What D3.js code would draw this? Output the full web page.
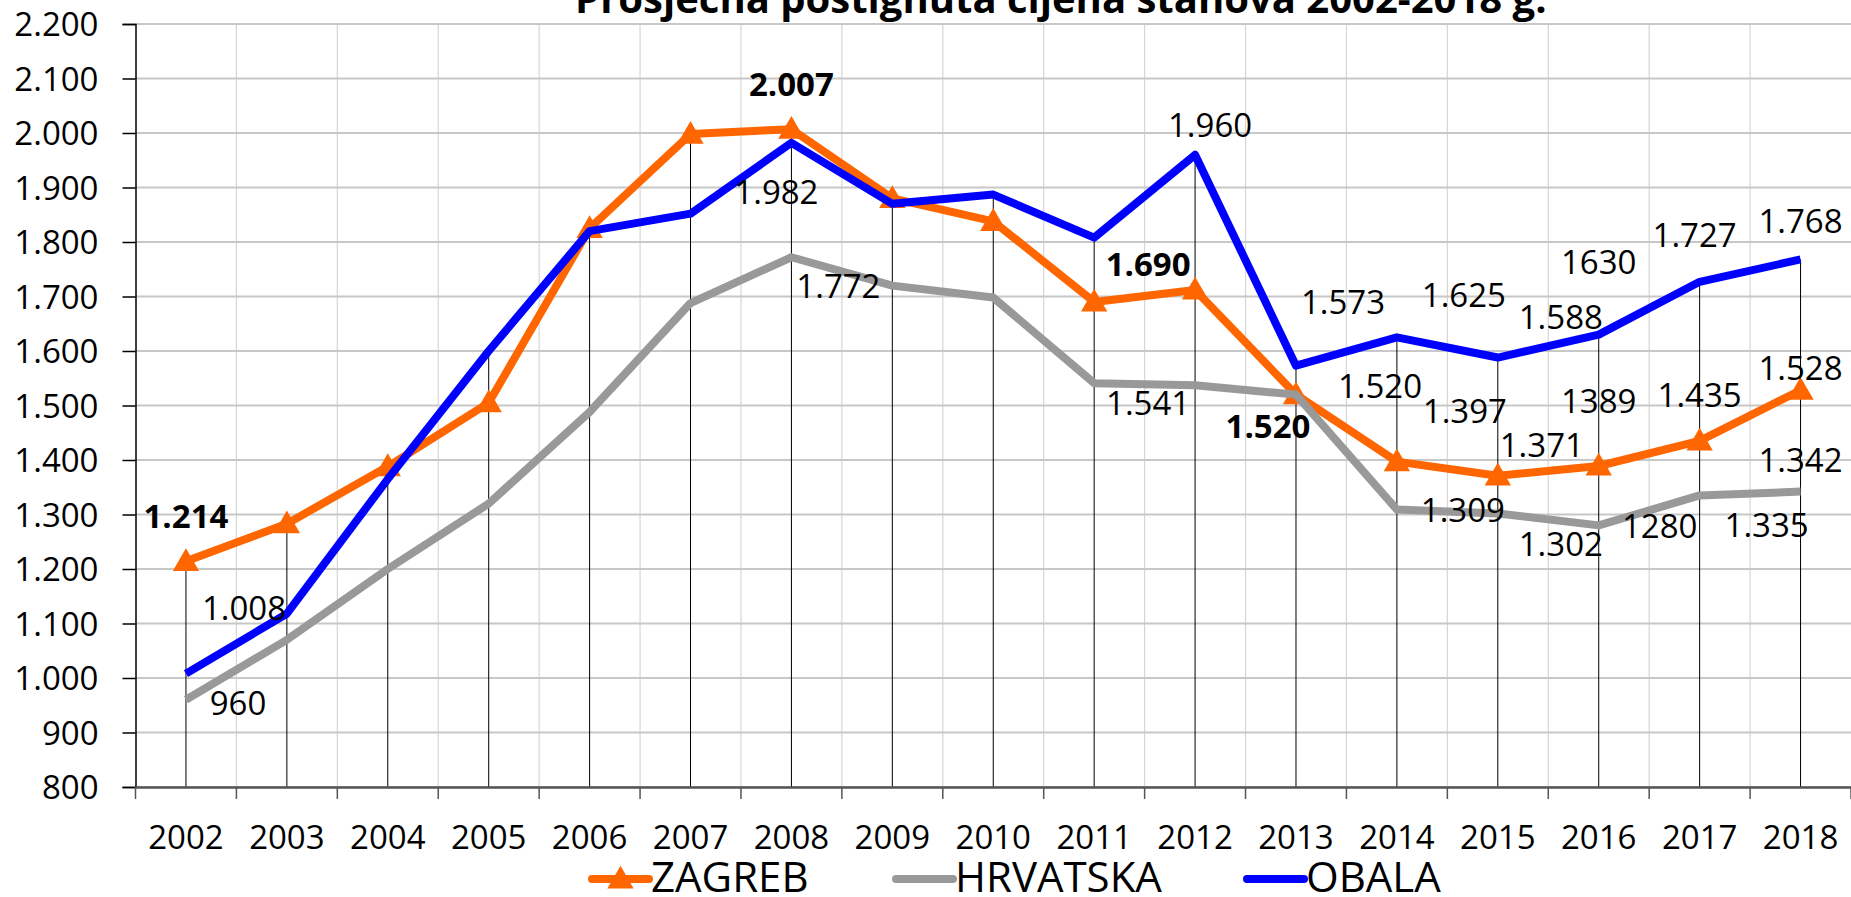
<!DOCTYPE html>
<html>
<head>
<meta charset="utf-8">
<script src="https://cdn.jsdelivr.net/npm/d3@7"></script>
<style>
  html, body { margin: 0; padding: 0; background: #fff; overflow: hidden; }
  svg { display: block; font-family: "Open Sans", "Liberation Sans", Arial, sans-serif; }
</style>
</head>
<body>
<div id="chart"></div>
<script>
const title = 'Prosječna postignuta cijena stanova 2002-2018 g.';
const years = ['2002', '2003', '2004', '2005', '2006', '2007', '2008', '2009', '2010',
               '2011', '2012', '2013', '2014', '2015', '2016', '2017', '2018'];
const yTicks = [800, 900, 1000, 1100, 1200, 1300, 1400, 1500, 1600, 1700, 1800, 1900, 2000, 2100, 2200];

const zagreb   = [1214, 1283, 1388, 1505, 1825, 1998, 2007, 1880, 1838, 1690, 1712, 1520, 1397, 1371, 1389, 1435, 1528];
const hrvatska = [960, 1070, 1200, 1320, 1488, 1688, 1772, 1720, 1698, 1541, 1537, 1520, 1309, 1302, 1280, 1335, 1342];
const obala    = [1008, 1118, 1365, 1600, 1820, 1852, 1982, 1870, 1887, 1808, 1960, 1573, 1625, 1588, 1630, 1727, 1768];

// data labels as printed in the chart (null = no label)
const zagrebLabels   = ['1.214', null, null, null, null, null, '2.007', null, null, '1.690', null, '1.520', '1.397', '1.371', '1389', '1.435', '1.528'];
const hrvatskaLabels = ['960', null, null, null, null, null, '1.772', null, null, '1.541', null, '1.520', '1.309', '1.302', '1280', '1.335', '1.342'];
const obalaLabels    = ['1.008', null, null, null, null, null, '1.982', null, null, null, '1.960', '1.573', '1.625', '1.588', '1630', '1.727', '1.768'];

// label offsets from the point (label centre), hand placed like in the original
const zagrebOffsets = [[0, -45], null, null, null, null, null, [0, -45], null, null, [54, -38], null, [-28, 32],
                       [68, -50], [44, -31], [0, -65], [0, -46], [0, -22]];
const hrvatskaOffsets = [[52, 3], null, null, null, null, null, [47, 29], null, null, [54, 20], null, [84, -8],
                         [66, 1], [63, 31], [61, 1], [67, 30], [0, -31]];
const obalaOffsets = [[58, -65], null, null, null, null, null, [-15, 49], null, null, null, [15, -30], [47, -63],
                      [67, -42], [63, -40], [0, -72], [-5, -47], [0, -38]];
const zagrebBoldYears = ['2002', '2008', '2011', '2013'];

const W = 1851, H = 897;
const plotLeft = 135.5, plotRight = 1851, plotTop = 24, plotBottom = 787;
const FONT = '"Open Sans", "Liberation Sans", Arial, sans-serif';

const svg = d3.select('#chart').append('svg')
  .attr('width', W)
  .attr('height', H);

const x = d3.scaleBand().domain(years).range([plotLeft, plotRight]).padding(0);
const y = d3.scaleLinear().domain([800, 2200]).range([plotBottom, plotTop]);
const cx = d => x(d) + x.bandwidth() / 2;

// vertical grid at category boundaries
svg.append('g')
  .selectAll('line')
  .data(years.slice(1))
  .join('line')
    .attr('x1', d => x(d)).attr('x2', d => x(d))
    .attr('y1', plotTop).attr('y2', plotBottom)
    .attr('stroke', '#d6d6d6')
    .attr('stroke-width', 1.2);

// horizontal grid
svg.append('g')
  .selectAll('line')
  .data(yTicks)
  .join('line')
    .attr('x1', plotLeft).attr('x2', plotRight)
    .attr('y1', d => y(d)).attr('y2', d => y(d))
    .attr('stroke', '#c8c8c8')
    .attr('stroke-width', 2);

// drop lines from the highest point down to the axis
svg.append('g')
  .selectAll('line')
  .data(years)
  .join('line')
    .attr('x1', d => cx(d)).attr('x2', d => cx(d))
    .attr('y1', (d, i) => y(d3.max([zagreb[i], hrvatska[i], obala[i]])))
    .attr('y2', plotBottom)
    .attr('stroke', '#000')
    .attr('stroke-width', 1);

// y axis
const yAxis = svg.append('g')
  .attr('transform', `translate(${plotLeft},0)`)
  .call(d3.axisLeft(y).tickValues(yTicks).tickSize(13).tickPadding(24)
    .tickFormat(d => d3.format(',')(d).replace(',', '.')));
yAxis.select('.domain').attr('stroke', '#000').attr('stroke-width', 1.5);
yAxis.selectAll('.tick line').attr('stroke', '#000').attr('stroke-width', 1.5);
yAxis.selectAll('text')
  .attr('font-size', 33)
  .attr('fill', '#000')
  .attr('dy', '0.36em')
  .attr('font-family', FONT);

// x axis
const xAxis = svg.append('g')
  .attr('transform', `translate(0,${plotBottom})`)
  .call(d3.axisBottom(x).tickSize(0).tickPadding(62));
xAxis.select('.domain').attr('stroke', '#555').attr('stroke-width', 2.5);
xAxis.selectAll('text')
  .attr('font-size', 33)
  .attr('fill', '#000')
  .attr('dy', 0)
  .attr('font-family', FONT);
xAxis.append('g')
  .selectAll('line')
  .data(years.concat(['end']))
  .join('line')
    .attr('x1', d => d === 'end' ? plotRight : x(d))
    .attr('x2', d => d === 'end' ? plotRight : x(d))
    .attr('y1', 0).attr('y2', 12)
    .attr('stroke', '#555')
    .attr('stroke-width', 1.5);

// series
const line = d3.line()
  .x((d, i) => cx(years[i]))
  .y(d => y(d));

const triangle = d3.symbol().type(d3.symbolTriangle).size(300);

svg.append('path').datum(zagreb)
  .attr('d', line)
  .attr('fill', 'none')
  .attr('stroke', '#ff6600')
  .attr('stroke-width', 8)
  .attr('stroke-linejoin', 'round');
svg.append('g')
  .selectAll('path')
  .data(zagreb)
  .join('path')
    .attr('d', triangle)
    .attr('transform', (d, i) => `translate(${cx(years[i])},${y(d) + 2})`)
    .attr('fill', '#ff6600');

svg.append('path').datum(hrvatska)
  .attr('d', line)
  .attr('fill', 'none')
  .attr('stroke', '#999999')
  .attr('stroke-width', 8)
  .attr('stroke-linejoin', 'round');

svg.append('path').datum(obala)
  .attr('d', line)
  .attr('fill', 'none')
  .attr('stroke', '#0000ff')
  .attr('stroke-width', 8)
  .attr('stroke-linejoin', 'round');

// data labels
function addLabels(values, labels, offsets, boldYears) {
  const fs = 33;
  svg.append('g')
    .selectAll('text')
    .data(values.map((v, i) => ({ v, i, t: labels[i], o: offsets[i] })).filter(d => d.t))
    .join('text')
      .attr('x', d => cx(years[d.i]) + d.o[0])
      .attr('y', d => y(d.v) + d.o[1] + fs * 0.357)
      .attr('text-anchor', 'middle')
      .attr('font-size', fs)
      .attr('font-weight', d => boldYears.includes(years[d.i]) ? 'bold' : 'normal')
      .attr('fill', '#000')
      .text(d => d.t);
}
addLabels(zagreb, zagrebLabels, zagrebOffsets, zagrebBoldYears);
addLabels(hrvatska, hrvatskaLabels, hrvatskaOffsets, []);
addLabels(obala, obalaLabels, obalaOffsets, []);

// title, partly cut at the top
const t = svg.append('text')
  .attr('x', 575)
  .attr('y', 13)
  .attr('font-size', 36)
  .attr('font-weight', 'bold')
  .attr('fill', '#000')
  .text(title);
const tw = t.node().getComputedTextLength();
t.attr('font-size', 36 * 972 / tw);

// legend
const legend = [
  { name: 'ZAGREB', color: '#ff6600', x: 592, marker: true },
  { name: 'HRVATSKA', color: '#999999', x: 896, marker: false },
  { name: 'OBALA', color: '#0000ff', x: 1247, marker: false }
];
const ly = 879;
const lg = svg.append('g');
legend.forEach(item => {
  lg.append('line')
    .attr('x1', item.x).attr('x2', item.x + 57)
    .attr('y1', ly).attr('y2', ly)
    .attr('stroke', item.color)
    .attr('stroke-width', 8)
    .attr('stroke-linecap', 'round');
  if (item.marker) {
    lg.append('path')
      .attr('d', triangle)
      .attr('transform', `translate(${item.x + 28.5},${ly + 2})`)
      .attr('fill', item.color);
  }
  lg.append('text')
    .attr('x', item.x + 59)
    .attr('y', 892)
    .attr('font-size', 42)
    .attr('fill', '#000')
    .text(item.name);
});
</script>
</body>
</html>
